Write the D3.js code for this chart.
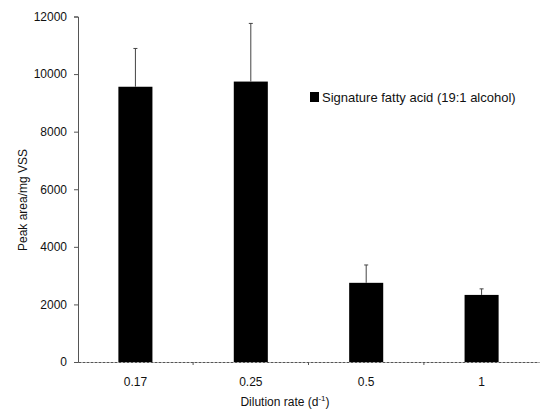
<!DOCTYPE html>
<html><head><meta charset="utf-8">
<script src="https://cdn.jsdelivr.net/npm/d3@7"></script>
<style>body{margin:0;background:#fff}text{font-family:"Liberation Sans",Arial,sans-serif}</style>
</head><body>
<svg id="c" width="542" height="411"></svg>
<script>
const categories = ["0.17","0.25","0.5","1"];
const values = [9560, 9740, 2750, 2330];
const errors = [1330, 2020, 620, 210];
const yTicks = [0,2000,4000,6000,8000,10000,12000];
const seriesName = "Signature fatty acid (19:1 alcohol)";

const svg = d3.select("#c");
const m = {l:78, r:3, t:16.5, b:49};
const W = 542, H = 411;
const x = d3.scaleBand().domain(categories).range([m.l, W-m.r]).paddingInner(0.705).paddingOuter(0.35);
const y = d3.scaleLinear().domain([0,12000]).range([H-m.b, m.t]);

// y axis
const ya = svg.append("g").attr("transform",`translate(${m.l},0)`)
  .call(d3.axisLeft(y).tickValues(yTicks).tickSize(4).tickPadding(7).tickFormat(d3.format("d")));
ya.select(".domain").attr("stroke","#555").attr("stroke-width",1);
ya.selectAll("line").attr("stroke","#555");
ya.selectAll("text").attr("font-size",12).attr("fill","#111");

// x axis
const xa = svg.append("g").attr("transform",`translate(0,${y(0)})`)
  .call(d3.axisBottom(x).tickSize(0).tickPadding(15));
xa.select(".domain").attr("stroke","#555").attr("stroke-dasharray","3,1");
xa.selectAll("text").attr("font-size",12).attr("fill","#111");
// between-category ticks
const step = x.step();
const bounds = categories.slice(1).map((c)=> x(c) - (step - x.bandwidth())/2);
svg.append("g").selectAll("line").data(bounds).join("line")
  .attr("x1",d=>d).attr("x2",d=>d).attr("y1",y(0)).attr("y2",y(0)+3).attr("stroke","#555");

// bars
svg.append("g").selectAll("rect").data(categories).join("rect")
  .attr("x",d=>x(d)).attr("width",x.bandwidth())
  .attr("y",(d,i)=>y(values[i])).attr("height",(d,i)=>y(0)-y(values[i]))
  .attr("fill","#000");

// error bars
const eb = svg.append("g").attr("stroke","#444").attr("stroke-width",1);
categories.forEach((c,i)=>{
  const cx = x(c)+x.bandwidth()/2;
  eb.append("line").attr("x1",cx).attr("x2",cx).attr("y1",y(values[i])).attr("y2",y(values[i]+errors[i]));
  eb.append("line").attr("x1",cx-2).attr("x2",cx+2).attr("y1",y(values[i]+errors[i])).attr("y2",y(values[i]+errors[i]));
});

// legend
svg.append("rect").attr("x",310).attr("y",92).attr("width",9).attr("height",10).attr("fill","#000");
svg.append("text").attr("x",322).attr("y",101.5).attr("font-size",13).attr("fill","#111").text(seriesName);

// axis titles
const xt = svg.append("text").attr("x",285).attr("y",406).attr("text-anchor","middle").attr("font-size",12).attr("fill","#111");
xt.append("tspan").text("Dilution rate (d");
xt.append("tspan").attr("font-size",8).attr("dy",-5).text("-1");
xt.append("tspan").attr("dy",5).text(")");

svg.append("text").attr("transform","translate(27,200) rotate(-90)").attr("text-anchor","middle")
  .attr("font-size",12).attr("fill","#111").text("Peak area/mg VSS");
</script>
</body></html>
